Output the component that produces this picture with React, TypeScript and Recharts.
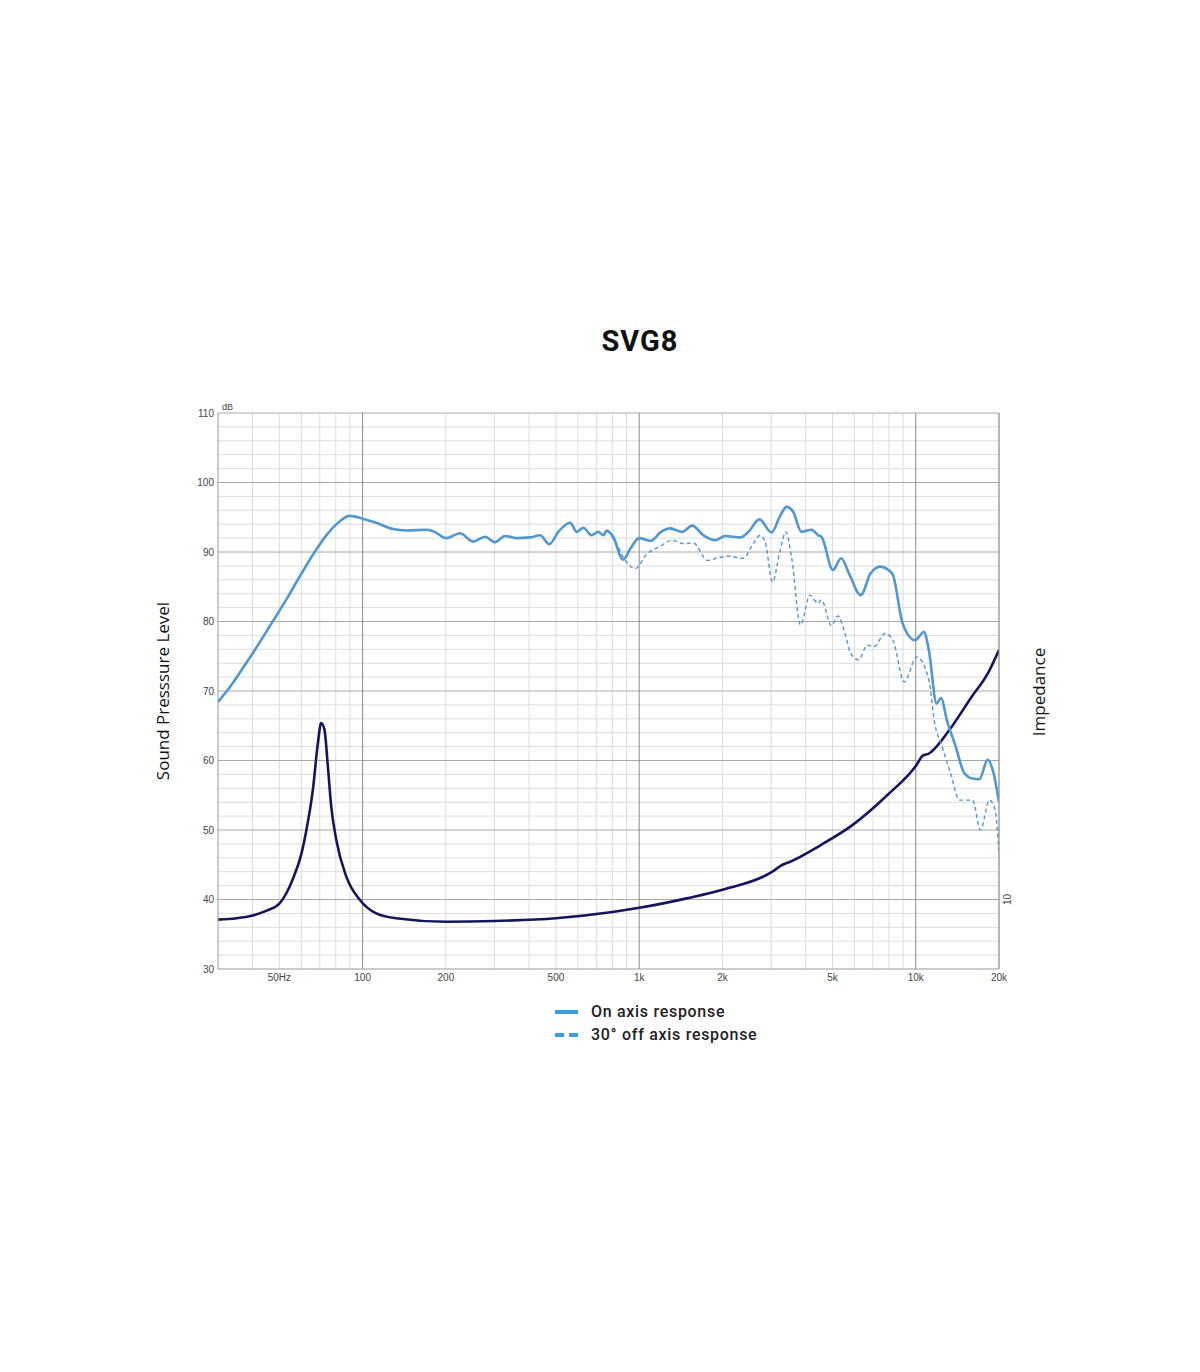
import React from 'react';
import { LineChart, Line, XAxis, YAxis, ReferenceLine, Legend } from 'recharts';

const onAxisFreq = [30, 33.9, 36.9, 40, 47.3, 52.9, 59.1, 66.1, 73.9, 82.6, 89.7, 100, 112, 129, 144, 170, 180, 201, 225, 251, 277, 301, 327, 360, 402, 438, 473, 510, 563, 595, 628, 673, 711, 742, 763, 805, 874, 930, 1000, 1100, 1200, 1295, 1430, 1555, 1709, 1883, 2046, 2317, 2484, 2719, 3012, 3225, 3409, 3603, 3860, 4200, 4440, 4560, 5020, 5370, 5740, 6330, 6860, 7440, 7960, 8270, 8970, 9950, 10700, 11150, 11900, 12330, 13000, 13950, 14970, 16050, 16980, 18200, 18990, 20000];
const onAxisSpl = [68.4, 71.1, 73.3, 75.4, 80.0, 83.1, 86.4, 89.6, 92.4, 94.4, 95.2, 94.8, 94.2, 93.3, 93.1, 93.2, 93.0, 92.0, 92.7, 91.5, 92.2, 91.4, 92.3, 92.0, 92.1, 92.4, 91.1, 92.9, 94.2, 92.9, 93.5, 92.4, 92.9, 92.4, 93.1, 92.2, 88.9, 90.5, 92.0, 91.6, 92.9, 93.4, 92.9, 93.8, 92.4, 91.7, 92.3, 92.1, 92.9, 94.7, 92.8, 95.1, 96.5, 95.8, 92.9, 93.2, 92.4, 92.2, 87.4, 89.1, 86.9, 83.8, 86.9, 87.9, 87.4, 86.7, 79.7, 77.3, 78.5, 75.9, 68.2, 69.0, 65.6, 62.0, 58.2, 57.4, 57.3, 60.1, 58.6, 54.0];

const offAxisFreq = [763, 805, 898, 966, 1065, 1190, 1313, 1450, 1570, 1764, 1908, 2102, 2380, 2583, 2738, 2852, 3036, 3225, 3390, 3555, 3830, 4145, 4440, 4560, 4958, 5230, 5530, 5820, 6220, 6680, 7060, 7760, 8270, 9090, 10080, 11150, 11740, 12330, 13350, 14400, 16050, 17140, 18460, 19360, 20000];
const offAxisSpl = [93.1, 92.0, 88.6, 87.6, 89.7, 90.8, 91.7, 91.2, 91.3, 88.8, 89.1, 89.4, 89.1, 91.2, 92.4, 91.5, 85.7, 90.0, 92.9, 89.3, 79.5, 83.8, 82.6, 83.1, 79.4, 80.8, 78.5, 75.4, 74.5, 76.6, 76.4, 78.3, 77.3, 71.3, 74.9, 71.6, 65.1, 62.5, 58.2, 54.3, 54.3, 50.0, 54.3, 52.9, 46.5];

const impFreq = [30, 35, 40, 45, 50, 53, 56, 60, 62.5, 66.1, 68.9, 70.8, 72.8, 74.9, 77, 80.3, 87.3, 97.5, 112, 132, 200, 300, 500, 800, 1000, 1500, 2000, 3000, 3300, 3500, 4520, 5900, 7880, 10080, 10600, 11150, 13350, 15820, 18200, 20000];
const impOhm = [7.1, 7.3, 7.7, 8.4, 9.4, 10.9, 13.0, 16.5, 19.8, 25.8, 32.5, 35.4, 34.4, 29.1, 23.4, 18.6, 13.3, 10.0, 8.0, 7.3, 6.8, 6.9, 7.3, 8.2, 8.8, 10.2, 11.4, 13.9, 15.0, 15.4, 17.8, 20.7, 25.0, 29.4, 30.7, 31.0, 34.6, 39.0, 42.5, 45.9];

const xTicks = [50, 100, 200, 500, 1000, 2000, 5000, 10000, 20000];
const xTickLabels = ['50Hz', '100', '200', '500', '1k', '2k', '5k', '10k', '20k'];
const yTicks = [30, 40, 50, 60, 70, 80, 90, 100, 110];
const impTicks = [10];

const minorFreqs = [40, 50, 60, 70, 80, 90, 200, 300, 400, 500, 600, 700, 800, 900, 2000, 3000, 4000, 5000, 6000, 7000, 8000, 9000];
const majorFreqs = [100, 1000, 10000];
const borderFreqs = [20000];
const minorSpl = [32, 34, 36, 38, 42, 44, 46, 48, 52, 54, 56, 58, 62, 64, 66, 68, 72, 74, 76, 78, 82, 84, 86, 88, 92, 94, 96, 98, 102, 104, 106, 108];
const majorSpl = [40, 50, 60, 70, 80, 90, 100, 110];

const onAxisData = onAxisFreq.map((f, i) => ({ f, spl: onAxisSpl[i] }));
const offAxisData = offAxisFreq.map((f, i) => ({ f, spl: offAxisSpl[i] }));
const impData = impFreq.map((f, i) => ({ f, z: impOhm[i] }));

const LIGHT_BLUE = '#5197d1';
const NAVY = '#15155e';

const xLabel = (v: number) => {
  const i = xTicks.indexOf(v);
  return i >= 0 ? xTickLabels[i] : String(v);
};

const ImpTick = (props: any) => {
  const { x, y, payload } = props;
  return (
    <text x={x + 10} y={y} transform={`rotate(-90 ${x + 10} ${y})`} textAnchor="middle" fontSize={10} fill="#444" fontFamily="Liberation Sans, Arial, sans-serif">
      {payload.value}
    </text>
  );
};

const LegendContent = () => (
  <div style={{ fontFamily: 'Roboto, sans-serif', fontSize: 16, fontWeight: 500, color: '#222', letterSpacing: 0.7 }}>
    <div style={{ display: 'flex', alignItems: 'center', height: 23 }}>
      <svg width={36} height={10}><line x1={0} y1={5} x2={23} y2={5} stroke="#3a9de0" strokeWidth={4} /></svg>
      <span>On axis response</span>
    </div>
    <div style={{ display: 'flex', alignItems: 'center', height: 23 }}>
      <svg width={36} height={10}><line x1={0} y1={5} x2={23} y2={5} stroke="#3a9de0" strokeWidth={4} strokeDasharray="9 5" /></svg>
      <span>30° off axis response</span>
    </div>
  </div>
);

export default function App() {
  return (
    <div style={{ position: 'relative', width: 1184, height: 1356, background: '#fff' }}>
      <div style={{ position: 'absolute', left: 532, top: 316, width: 200, textAlign: 'center', fontFamily: 'Roboto, sans-serif', fontWeight: 700, fontSize: 29, color: '#111', letterSpacing: 1 }}>SVG8</div>
      <div style={{ position: 'absolute', left: 214, top: 394, fontFamily: 'Liberation Sans, Arial, sans-serif', fontSize: 9, color: '#444' }}>dB</div>
      <div style={{ position: 'absolute', left: 154, top: 683, width: 0, height: 0 }}>
        <div style={{ position: 'absolute', transform: 'translate(-50%, -50%) rotate(-90deg)', whiteSpace: 'nowrap', fontFamily: 'Open Sans, sans-serif', fontSize: 17, color: '#111' }}>Sound Presssure Level</div>
      </div>
      <div style={{ position: 'absolute', left: 1030, top: 684, width: 0, height: 0 }}>
        <div style={{ position: 'absolute', transform: 'translate(-50%, -50%) rotate(-90deg)', whiteSpace: 'nowrap', fontFamily: 'Open Sans, sans-serif', fontSize: 17, color: '#111' }}>Impedance</div>
      </div>
      <div style={{ position: 'absolute', left: 0, top: 0 }}>
        <LineChart width={1184} height={1100} margin={{ top: 405, right: 163, left: 170, bottom: 109 }}>
          <XAxis
            dataKey="f"
            type="number"
            scale="log"
            domain={[30, 20000]}
            ticks={xTicks}
            tickFormatter={xLabel}
            allowDataOverflow
            height={30}
            tickSize={0}
            tickMargin={5}
            axisLine={{ stroke: '#999' }}
            tick={{ fontSize: 10, fill: '#444', fontFamily: 'Liberation Sans, Arial, sans-serif' }}
          />
          <YAxis
            yAxisId="spl"
            type="number"
            domain={[30, 110]}
            ticks={yTicks}
            width={40}
            tickSize={0}
            tickMargin={4}
            axisLine={{ stroke: '#999' }}
            tick={{ fontSize: 10, fill: '#444', fontFamily: 'Liberation Sans, Arial, sans-serif' }}
          />
          <YAxis
            yAxisId="imp"
            orientation="right"
            type="number"
            domain={[0, 80]}
            ticks={impTicks}
            width={30}
            tickSize={0}
            axisLine={{ stroke: '#999' }}
            tick={<ImpTick />}
          />
          {minorSpl.map((v) => (
            <ReferenceLine key={`hs${v}`} yAxisId="spl" y={v} stroke="#dcdcdc" strokeWidth={1} />
          ))}
          {minorFreqs.map((v) => (
            <ReferenceLine key={`vs${v}`} yAxisId="spl" x={v} stroke="#dcdcdc" strokeWidth={1} />
          ))}
          {majorSpl.map((v) => (
            <ReferenceLine key={`hm${v}`} yAxisId="spl" y={v} stroke="#a8a8a8" strokeWidth={1} />
          ))}
          {majorFreqs.map((v) => (
            <ReferenceLine key={`vm${v}`} yAxisId="spl" x={v} stroke="#8a8a8a" strokeWidth={1} />
          ))}
          {borderFreqs.map((v) => (
            <ReferenceLine key={`vb${v}`} yAxisId="spl" x={v} stroke="#a8a8a8" strokeWidth={1} />
          ))}
          <Line yAxisId="imp" data={impData} dataKey="z" type="monotone" stroke={NAVY} strokeWidth={2.6} dot={false} isAnimationActive={false} />
          <Line yAxisId="spl" data={offAxisData} dataKey="spl" type="monotone" stroke={LIGHT_BLUE} strokeWidth={1.4} strokeDasharray="4 3" dot={false} isAnimationActive={false} />
          <Line yAxisId="spl" data={onAxisData} dataKey="spl" type="monotone" stroke={LIGHT_BLUE} strokeWidth={2.6} dot={false} isAnimationActive={false} />
          <Legend content={<LegendContent />} wrapperStyle={{ position: 'absolute', left: 547, top: 992, width: 260, height: 0, overflow: 'visible' }} />
        </LineChart>
      </div>
    </div>
  );
}
